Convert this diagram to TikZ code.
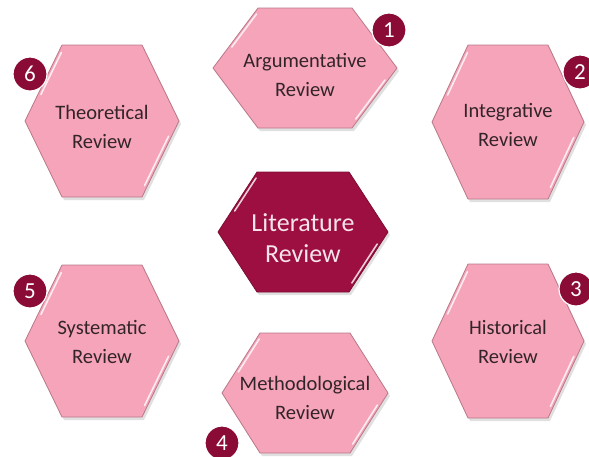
\documentclass[tikz,border=0pt]{standalone}
\usepackage{fontspec}
\setmainfont{Carlito}
\definecolor{pinkfill}{HTML}{F6A4B9}
\definecolor{pinkedge}{HTML}{B8788A}
\definecolor{crimson}{HTML}{9C0F40}
\definecolor{badgered}{HTML}{8A0C36}
\definecolor{txt}{HTML}{33242A}
\definecolor{lighttxt}{HTML}{F6E4EA}
\tikzset{
 hexpink/.style={fill=pinkfill, draw=pinkedge, line width=0.8pt, line join=round},
 hexdark/.style={fill=crimson, draw=crimson!80!black, line width=0.8pt, line join=round},
 hexshadow/.style={fill=black, opacity=0.12},
 gloss/.style={draw=white, line width=1.6pt, opacity=0.8, line cap=round},
 lbl/.style={text=txt, font=\fontsize{20.5}{28.5}\selectfont, align=center, inner sep=0pt},
 biglbl/.style={text=lighttxt, font=\fontsize{26}{31}\selectfont, align=center, inner sep=0pt},
 badgestyle/.style={circle, fill=badgered, draw=white, line width=1.2pt, minimum size=34pt, inner sep=0pt, text=white, font=\fontsize{23}{23}\selectfont},
}
% name cx cy w t h hexstyle labelstyle text
\newcommand\mkhex[9]{%
  \fill[hexshadow] ({#2-#5+2},{#3-#6+3}) -- ({#2+#5+2},{#3-#6+3}) -- ({#2+#4+2},{#3+3}) -- ({#2+#5+2},{#3+#6+3}) -- ({#2-#5+2},{#3+#6+3}) -- ({#2-#4+2},{#3+3}) -- cycle;
  \draw[#7] ({#2-#5},{#3-#6}) -- ({#2+#5},{#3-#6}) -- ({#2+#4},{#3}) -- ({#2+#5},{#3+#6}) -- ({#2-#5},{#3+#6}) -- ({#2-#4},{#3}) -- cycle;
  \draw[gloss] ({#2-#4+0.35*(#4-#5)+3},{#3-0.35*#6}) -- ({#2-#4+0.9*(#4-#5)+3},{#3-0.9*#6});
  \draw[gloss] ({#2+#4-0.2*(#4-#5)-3},{#3+0.2*#6}) -- ({#2+#4-0.85*(#4-#5)-3},{#3+0.85*#6});
}
\begin{document}
\begin{tikzpicture}[x=1pt,y=-1pt]
\useasboundingbox (0,0) rectangle (589,456);
\mkhex{arg}{305}{68}{92}{47}{60}{hexpink}{lbl}{}
\mkhex{theo}{102}{121}{77}{40}{76}{hexpink}{lbl}{}
\mkhex{integ}{508}{122}{76}{40}{77}{hexpink}{lbl}{}
\mkhex{lit}{303}{232}{85}{46}{60}{hexdark}{biglbl}{}
\mkhex{syst}{102}{341}{77}{40}{76}{hexpink}{lbl}{}
\mkhex{hist}{508}{341}{76}{40}{77}{hexpink}{lbl}{}
\mkhex{meth}{305}{393}{83}{45}{60}{hexpink}{lbl}{}
\node[lbl] (arg) at (305,75) {Argumentative\\Review};
\node[lbl] (theo) at (102,127) {Theoretical\\Review};
\node[lbl] (integ) at (508,125) {Integrative\\Review};
\node[biglbl] (lit) at (303,238) {Literature\\Review};
\node[lbl] (syst) at (102,342) {Systematic\\Review};
\node[lbl] (hist) at (508,342) {Historical\\Review};
\node[lbl] (meth) at (305,398) {Methodological\\Review};
\node[badgestyle] (b1) at (389,30) {1};
\node[badgestyle] (b2) at (580,72) {2};
\node[badgestyle] (b3) at (576,289) {3};
\node[badgestyle] (b4) at (222,443) {4};
\node[badgestyle] (b5) at (30,291) {5};
\node[badgestyle] (b6) at (30,74) {6};
\end{tikzpicture}
\end{document}
